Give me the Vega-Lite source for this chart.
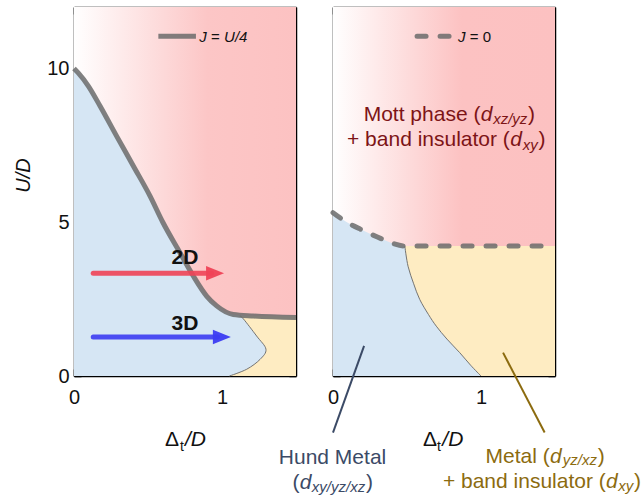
{
  "$schema": "https://vega.github.io/schema/vega-lite/v6.json",
  "padding": {"left": 13, "top": 6, "right": 5, "bottom": 5},
  "background": "white",
  "config": {
    "font": "Liberation Sans",
    "view": {"stroke": null},
    "axis": {"domainColor": "#000", "domainWidth": 1.5, "tickColor": "#000", "tickWidth": 1.5, "tickSize": -7,
      "labelFontSize": 20, "labelColor": "#111", "labelFont": "Liberation Sans", "labelPadding": 18, "labelFlush": false, "labelOverlap": false,
      "grid": false, "zindex": 1, "titleFontSize": 20, "titleFontWeight": "normal", "titleColor": "#111", "titleFontStyle": "italic", "titleFont": "Liberation Sans"}
  },
  "datasets": {
    "bg": [{"x": 0, "x2": 1.5, "y": 0, "y2": 12}],
    "jline": [{"x":0,"y":10},{"x":0.03,"y":9.85},{"x":0.097,"y":9.43},{"x":0.176,"y":8.78},{"x":0.288,"y":7.8},{"x":0.401,"y":6.83},{"x":0.514,"y":5.85},{"x":0.6,"y":5.0},{"x":0.716,"y":4.01},{"x":0.806,"y":3.25},{"x":0.896,"y":2.6},{"x":0.964,"y":2.28},{"x":1.076,"y":2.0},{"x":1.212,"y":1.95},{"x":1.5,"y":1.9}],
    "metalL": [{"y":0,"x":1.05},{"y":0.22,"x":1.167},{"y":0.54,"x":1.257},{"y":0.87,"x":1.297},{"y":1.3,"x":1.234},{"y":1.86,"x":1.144},{"y":1.95,"x":1.12}],
    "arrows": [{"g":"red","x":0.13,"x2":0.93,"y":3.34},{"g":"blue","x":0.13,"x2":0.97,"y":1.27}],
    "heads": [{"g":"red","x":0.953,"y":3.34},{"g":"blue","x":0.999,"y":1.27}],
    "labelsL": [{"t":"2D","x":0.75,"y":3.63,"g":"ink"},{"t":"3D","x":0.75,"y":1.485,"g":"ink"}],
    "legLineL": [{"x":0.57,"y":11.05},{"x":0.824,"y":11.05}],
    "legItalL": [{"t":"J","x":0.847,"y":10.855,"g":"ink"},{"t":"U/4","x":1.014,"y":10.855,"g":"ink"}],
    "legNormL": [{"t":"=","x":0.926,"y":10.855,"g":"ink"}],
    "normL": [{"t":"Δ","x":0.615,"y":-2.275,"g":"ink"}],
    "italL": [{"t":"/D","x":0.75,"y":-2.275,"g":"ink"}],
    "subNormL": [{"t":"t","x":0.716,"y":-2.44,"g":"ink"}],
    "jzero": [{"x":0,"y":5.31},{"x":0.1,"y":4.98},{"x":0.2,"y":4.74},{"x":0.3,"y":4.52},{"x":0.4,"y":4.32},{"x":0.48,"y":4.23},{"x":1.5,"y":4.23}],
    "metalR": [{"y":0,"x":1.0},{"y":0.35,"x":0.93},{"y":0.76,"x":0.856},{"y":1.2,"x":0.77},{"y":1.62,"x":0.698},{"y":2.0,"x":0.645},{"y":2.49,"x":0.586},{"y":3.0,"x":0.545},{"y":3.57,"x":0.507},{"y":4.23,"x":0.485}],
    "legLineR": [{"x":0.568,"y":11.05},{"x":0.822,"y":11.05}],
    "legItalR": [{"t":"J","x":0.845,"y":10.855,"g":"ink"}],
    "legNormR": [{"t":"= 0","x":0.924,"y":10.855,"g":"ink"}],
    "preR": [
      {"t":"Mott phase (","x":0.996,"y":8.287,"g":"mott"},
      {"t":"+ band insulator (","x":1.195,"y":7.475,"g":"mott"},
      {"t":"(","x":-0.227,"y":-3.66,"g":"hund"},
      {"t":"Metal (","x":1.464,"y":-2.84,"g":"metal"},
      {"t":"+ band insulator (","x":1.843,"y":-3.63,"g":"metal"}
    ],
    "normR": [
      {"t":")","x":1.317,"y":8.287,"g":"mott"},
      {"t":")","x":1.388,"y":7.475,"g":"mott"},
      {"t":"Hund Metal","x":-0.366,"y":-2.85,"g":"hund"},
      {"t":")","x":0.223,"y":-3.66,"g":"hund"},
      {"t":")","x":1.789,"y":-2.84,"g":"metal"},
      {"t":")","x":2.034,"y":-3.63,"g":"metal"},
      {"t":"Δ","x":0.608,"y":-2.275,"g":"ink"}
    ],
    "italR": [
      {"t":"d","x":0.998,"y":8.287,"g":"mott"},
      {"t":"d","x":1.197,"y":7.475,"g":"mott"},
      {"t":"d","x":-0.225,"y":-3.66,"g":"hund"},
      {"t":"d","x":1.466,"y":-2.84,"g":"metal"},
      {"t":"d","x":1.845,"y":-3.63,"g":"metal"},
      {"t":"/D","x":0.739,"y":-2.275,"g":"ink"}
    ],
    "subR": [
      {"t":"xz/yz","x":1.082,"y":8.18,"g":"mott"},
      {"t":"xy","x":1.282,"y":7.365,"g":"mott"},
      {"t":"xy/yz/xz","x":-0.143,"y":-3.77,"g":"hund"},
      {"t":"yz/xz","x":1.553,"y":-2.91,"g":"metal"},
      {"t":"xy","x":1.927,"y":-3.74,"g":"metal"}
    ],
    "subNormR": [{"t":"t","x":0.703,"y":-2.44,"g":"ink"}],
    "leaders": [{"g":"hund","x":0.21,"y":0.98,"x2":0,"y2":-1.84},{"g":"metal","x":1.149,"y":0.76,"x2":1.43,"y2":-1.84}]
  },
  "spacing": 37,
  "bounds": "flush",
  "hconcat": [
    {
      "width": 222, "height": 369,
      "resolve": {"axis": {"x": "independent", "y": "independent"}},
      "layer": [
        {"data": {"name": "bg"},
         "mark": {"type": "rect", "fill": {"gradient": "linear", "x1": 0, "y1": 0, "x2": 1, "y2": 0, "stops": [{"offset": 0, "color": "#ffffff"}, {"offset": 0.6, "color": "#fcc6c6"}, {"offset": 1, "color": "#fcc2c2"}]}},
         "encoding": {
           "x": {"field": "x", "type": "quantitative", "scale": {"domain": [0, 1.5], "nice": false, "zero": false}, "axis": {"orient": "bottom", "values": [0, 0.5, 1], "labelExpr": "datum.value == 0 || datum.value == 1 ? format(datum.value, 'd') : ''", "title": null}},
           "x2": {"field": "x2"},
           "y": {"field": "y", "type": "quantitative", "scale": {"domain": [0, 12], "nice": false, "zero": false}, "axis": {"orient": "left", "values": [0, 2.5, 5, 7.5, 10], "labelExpr": "datum.value % 5 == 0 ? datum.label : ''", "title": "U/D", "titlePadding": 13, "titleY": 168, "labelPadding": 12}},
           "y2": {"field": "y2"}
         }},
        {"data": {"name": "jline"},
         "mark": {"type": "area", "color": "#d6e6f4", "interpolate": "monotone", "opacity": 1},
         "encoding": {
           "x": {"field": "x", "type": "quantitative", "axis": {"orient": "top", "values": [0, 0.5, 1], "labels": false, "title": null}},
           "y": {"field": "y", "type": "quantitative", "axis": {"orient": "right", "values": [0, 2.5, 5, 7.5, 10], "labels": false, "title": null}},
           "y2": {"datum": 0}
         }},
        {"data": {"name": "metalL"},
         "mark": {"type": "area", "orient": "horizontal", "color": "#feecc2", "interpolate": "cardinal", "opacity": 1},
         "encoding": {
           "y": {"field": "y", "type": "quantitative", "axis": null},
           "x": {"field": "x", "type": "quantitative", "axis": null},
           "x2": {"datum": 1.5}
         }},
        {"data": {"name": "metalL"},
         "mark": {"type": "line", "color": "#666666", "strokeWidth": 0.9, "interpolate": "cardinal"},
         "encoding": {
           "y": {"field": "y", "type": "quantitative", "axis": null},
           "x": {"field": "x", "type": "quantitative", "axis": null},
           "order": {"field": "y", "type": "quantitative"}
         }},
        {"data": {"name": "jline"},
         "mark": {"type": "line", "color": "#6b6b6b", "strokeWidth": 5, "opacity": 0.85, "interpolate": "monotone"},
         "encoding": {
           "x": {"field": "x", "type": "quantitative", "axis": null},
           "y": {"field": "y", "type": "quantitative", "axis": null}
         }},
        {"data": {"name": "arrows"},
         "mark": {"type": "rule", "strokeWidth": 5, "strokeCap": "round", "opacity": 0.9},
         "encoding": {
           "x": {"field": "x", "type": "quantitative", "axis": null},
           "x2": {"field": "x2"},
           "y": {"field": "y", "type": "quantitative", "axis": null},
           "color": {"field": "g", "type": "nominal", "scale": {"domain": ["ink", "mott", "hund", "metal", "red", "blue"], "range": ["#111111", "#7d1416", "#3b4a66", "#8c6b0f", "#ef4256", "#3c3cf2"]}, "legend": null}
         }},
        {"data": {"name": "heads"},
         "mark": {"type": "point", "shape": "M-1,-0.8L1,0L-1,0.8Z", "size": 324, "filled": true, "opacity": 0.95, "strokeWidth": 0},
         "encoding": {
           "x": {"field": "x", "type": "quantitative", "axis": null},
           "y": {"field": "y", "type": "quantitative", "axis": null},
           "color": {"field": "g", "type": "nominal", "legend": null}
         }},
        {"data": {"name": "labelsL"},
         "mark": {"type": "text", "fontSize": 21, "fontWeight": "bold", "align": "center", "baseline": "alphabetic"},
         "encoding": {
           "x": {"field": "x", "type": "quantitative", "axis": null},
           "y": {"field": "y", "type": "quantitative", "axis": null},
           "text": {"field": "t"},
           "color": {"field": "g", "type": "nominal", "legend": null}
         }},
        {"data": {"name": "legLineL"},
         "mark": {"type": "line", "color": "#6b6b6b", "strokeWidth": 5, "opacity": 0.85},
         "encoding": {
           "x": {"field": "x", "type": "quantitative", "axis": null},
           "y": {"field": "y", "type": "quantitative", "axis": null}
         }},
        {"data": {"name": "legItalL"},
         "mark": {"type": "text", "fontSize": 15, "fontStyle": "italic", "align": "left", "baseline": "alphabetic"},
         "encoding": {
           "x": {"field": "x", "type": "quantitative", "axis": null},
           "y": {"field": "y", "type": "quantitative", "axis": null},
           "text": {"field": "t"},
           "color": {"field": "g", "type": "nominal", "legend": null}
         }},
        {"data": {"name": "legNormL"},
         "mark": {"type": "text", "fontSize": 15, "align": "left", "baseline": "alphabetic"},
         "encoding": {
           "x": {"field": "x", "type": "quantitative", "axis": null},
           "y": {"field": "y", "type": "quantitative", "axis": null},
           "text": {"field": "t"},
           "color": {"field": "g", "type": "nominal", "legend": null}
         }},
        {"data": {"name": "normL"},
         "mark": {"type": "text", "fontSize": 21, "align": "left", "baseline": "alphabetic"},
         "encoding": {
           "x": {"field": "x", "type": "quantitative", "axis": null},
           "y": {"field": "y", "type": "quantitative", "axis": null},
           "text": {"field": "t"},
           "color": {"field": "g", "type": "nominal", "legend": null}
         }},
        {"data": {"name": "italL"},
         "mark": {"type": "text", "fontSize": 21, "fontStyle": "italic", "align": "left", "baseline": "alphabetic"},
         "encoding": {
           "x": {"field": "x", "type": "quantitative", "axis": null},
           "y": {"field": "y", "type": "quantitative", "axis": null},
           "text": {"field": "t"},
           "color": {"field": "g", "type": "nominal", "legend": null}
         }},
        {"data": {"name": "subNormL"},
         "mark": {"type": "text", "fontSize": 14, "align": "left", "baseline": "alphabetic"},
         "encoding": {
           "x": {"field": "x", "type": "quantitative", "axis": null},
           "y": {"field": "y", "type": "quantitative", "axis": null},
           "text": {"field": "t"},
           "color": {"field": "g", "type": "nominal", "legend": null}
         }}
      ]
    },
    {
      "width": 222, "height": 369,
      "resolve": {"axis": {"x": "independent", "y": "independent"}},
      "layer": [
        {"data": {"name": "bg"},
         "mark": {"type": "rect", "fill": {"gradient": "linear", "x1": 0, "y1": 0, "x2": 1, "y2": 0, "stops": [{"offset": 0, "color": "#ffffff"}, {"offset": 0.58, "color": "#fcc2c2"}, {"offset": 1, "color": "#fcc1c1"}]}},
         "encoding": {
           "x": {"field": "x", "type": "quantitative", "scale": {"domain": [0, 1.5], "nice": false, "zero": false}, "axis": {"orient": "bottom", "values": [0, 0.5, 1], "labelExpr": "datum.value == 0 || datum.value == 1 ? format(datum.value, 'd') : ''", "title": null}},
           "x2": {"field": "x2"},
           "y": {"field": "y", "type": "quantitative", "scale": {"domain": [0, 12], "nice": false, "zero": false}, "axis": {"orient": "left", "values": [0, 2.5, 5, 7.5, 10], "labels": false, "title": null}},
           "y2": {"field": "y2"}
         }},
        {"data": {"name": "jzero"},
         "mark": {"type": "area", "color": "#d6e6f4", "interpolate": "monotone", "opacity": 1},
         "encoding": {
           "x": {"field": "x", "type": "quantitative", "axis": {"orient": "top", "values": [0, 0.5, 1], "labels": false, "title": null}},
           "y": {"field": "y", "type": "quantitative", "axis": {"orient": "right", "values": [0, 2.5, 5, 7.5, 10], "labels": false, "title": null}},
           "y2": {"datum": 0}
         }},
        {"data": {"name": "metalR"},
         "mark": {"type": "area", "orient": "horizontal", "color": "#feecc2", "interpolate": "cardinal", "opacity": 1},
         "encoding": {
           "y": {"field": "y", "type": "quantitative", "axis": null},
           "x": {"field": "x", "type": "quantitative", "axis": null},
           "x2": {"datum": 1.5}
         }},
        {"data": {"name": "metalR"},
         "mark": {"type": "line", "color": "#666666", "strokeWidth": 0.9, "interpolate": "cardinal"},
         "encoding": {
           "y": {"field": "y", "type": "quantitative", "axis": null},
           "x": {"field": "x", "type": "quantitative", "axis": null},
           "order": {"field": "y", "type": "quantitative"}
         }},
        {"data": {"name": "jzero"},
         "mark": {"type": "line", "color": "#6b6b6b", "strokeWidth": 5, "opacity": 0.85, "interpolate": "monotone", "strokeDash": [9, 14], "strokeCap": "round"},
         "encoding": {
           "x": {"field": "x", "type": "quantitative", "axis": null},
           "y": {"field": "y", "type": "quantitative", "axis": null}
         }},
        {"data": {"name": "legLineR"},
         "mark": {"type": "line", "color": "#6b6b6b", "strokeWidth": 5, "opacity": 0.85, "strokeDash": [9, 14], "strokeCap": "round"},
         "encoding": {
           "x": {"field": "x", "type": "quantitative", "axis": null},
           "y": {"field": "y", "type": "quantitative", "axis": null}
         }},
        {"data": {"name": "leaders"},
         "mark": {"type": "rule", "strokeWidth": 2},
         "encoding": {
           "x": {"field": "x", "type": "quantitative", "axis": null},
           "y": {"field": "y", "type": "quantitative", "axis": null},
           "x2": {"field": "x2"},
           "y2": {"field": "y2"},
           "color": {"field": "g", "type": "nominal", "scale": {"domain": ["ink", "mott", "hund", "metal", "red", "blue"], "range": ["#111111", "#7d1416", "#3b4a66", "#8c6b0f", "#ef4256", "#3c3cf2"]}, "legend": null}
         }},
        {"data": {"name": "legItalR"},
         "mark": {"type": "text", "fontSize": 15, "fontStyle": "italic", "align": "left", "baseline": "alphabetic"},
         "encoding": {
           "x": {"field": "x", "type": "quantitative", "axis": null},
           "y": {"field": "y", "type": "quantitative", "axis": null},
           "text": {"field": "t"},
           "color": {"field": "g", "type": "nominal", "legend": null}
         }},
        {"data": {"name": "legNormR"},
         "mark": {"type": "text", "fontSize": 15, "align": "left", "baseline": "alphabetic"},
         "encoding": {
           "x": {"field": "x", "type": "quantitative", "axis": null},
           "y": {"field": "y", "type": "quantitative", "axis": null},
           "text": {"field": "t"},
           "color": {"field": "g", "type": "nominal", "legend": null}
         }},
        {"data": {"name": "preR"},
         "mark": {"type": "text", "fontSize": 21, "align": "right", "baseline": "alphabetic"},
         "encoding": {
           "x": {"field": "x", "type": "quantitative", "axis": null},
           "y": {"field": "y", "type": "quantitative", "axis": null},
           "text": {"field": "t"},
           "color": {"field": "g", "type": "nominal", "legend": null}
         }},
        {"data": {"name": "normR"},
         "mark": {"type": "text", "fontSize": 21, "align": "left", "baseline": "alphabetic"},
         "encoding": {
           "x": {"field": "x", "type": "quantitative", "axis": null},
           "y": {"field": "y", "type": "quantitative", "axis": null},
           "text": {"field": "t"},
           "color": {"field": "g", "type": "nominal", "legend": null}
         }},
        {"data": {"name": "italR"},
         "mark": {"type": "text", "fontSize": 21, "fontStyle": "italic", "align": "left", "baseline": "alphabetic"},
         "encoding": {
           "x": {"field": "x", "type": "quantitative", "axis": null},
           "y": {"field": "y", "type": "quantitative", "axis": null},
           "text": {"field": "t"},
           "color": {"field": "g", "type": "nominal", "legend": null}
         }},
        {"data": {"name": "subR"},
         "mark": {"type": "text", "fontSize": 15, "fontStyle": "italic", "align": "left", "baseline": "alphabetic"},
         "encoding": {
           "x": {"field": "x", "type": "quantitative", "axis": null},
           "y": {"field": "y", "type": "quantitative", "axis": null},
           "text": {"field": "t"},
           "color": {"field": "g", "type": "nominal", "legend": null}
         }},
        {"data": {"name": "subNormR"},
         "mark": {"type": "text", "fontSize": 14, "align": "left", "baseline": "alphabetic"},
         "encoding": {
           "x": {"field": "x", "type": "quantitative", "axis": null},
           "y": {"field": "y", "type": "quantitative", "axis": null},
           "text": {"field": "t"},
           "color": {"field": "g", "type": "nominal", "legend": null}
         }}
      ]
    }
  ]
}
